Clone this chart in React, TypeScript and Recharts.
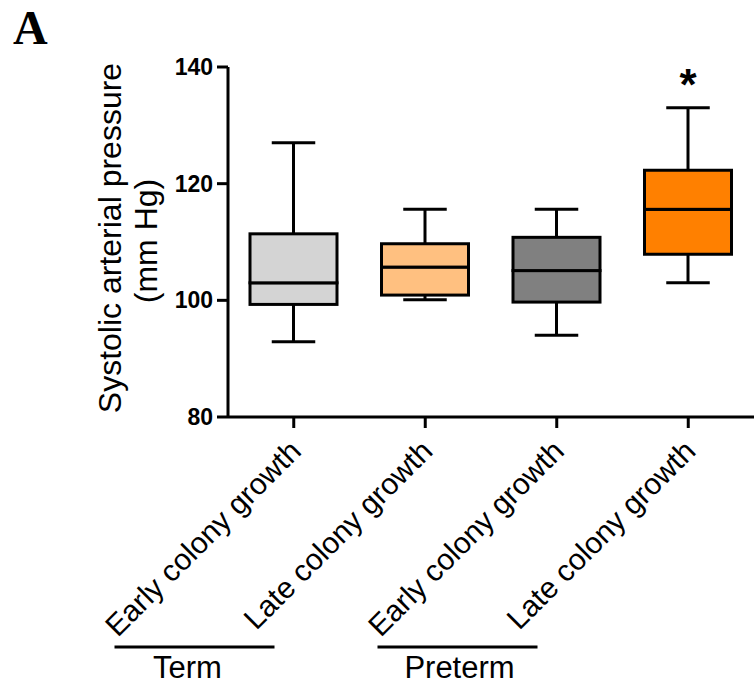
import { Bar, Cell, ComposedChart, LabelList, XAxis, YAxis } from "recharts";

const categories: string[] = ["Early colony growth", "Late colony growth", "Early colony growth", "Late colony growth"];
const groups: string[] = ["Term", "Preterm"];
const groupTextShift: number[] = [-7, 2];
const mins: number[] = [92.9, 100.1, 94.0, 103.0];
const q1s: number[] = [99.3, 100.9, 99.7, 107.9];
const medians: number[] = [103.0, 105.7, 105.1, 115.6];
const q3s: number[] = [111.4, 109.7, 110.8, 122.3];
const maxs: number[] = [127.0, 115.6, 115.6, 133.0];
const marks: string[] = ["", "", "", "*"];
const colors: string[] = ["#d4d4d4", "#ffc080", "#808080", "#ff8000"];
const yTicks: number[] = [80, 100, 120, 140];

const data = categories.map((name, i) => ({
    name: name + "-" + i,
    label: name,
    base: mins[i],
    lowW: q1s[i] - mins[i],
    lowBox: medians[i] - q1s[i],
    highBox: q3s[i] - medians[i],
    highW: maxs[i] - q3s[i],
    mark: marks[i],
}));

const font = "'Liberation Sans', Arial, sans-serif";

const LowWhisker = (props: any) => {
    const { x, y, width, height } = props;
    const cx = x + width / 2;
    return (
        <g stroke="#000" strokeWidth={3}>
            <line x1={cx} y1={y} x2={cx} y2={y + height} />
            <line x1={cx - width / 4} y1={y + height} x2={cx + width / 4} y2={y + height} />
        </g>
    );
};

const HighWhisker = (props: any) => {
    const { x, y, width, height } = props;
    const cx = x + width / 2;
    return (
        <g stroke="#000" strokeWidth={3}>
            <line x1={cx} y1={y} x2={cx} y2={y + height} />
            <line x1={cx - width / 4} y1={y} x2={cx + width / 4} y2={y} />
        </g>
    );
};

const BoxHalf = (props: any) => {
    const { x, y, width, height, fill } = props;
    return <rect x={x} y={y} width={width} height={height} fill={fill} stroke="#000" strokeWidth={3} />;
};

const XTick = (props: any) => {
    const { x, y, payload } = props;
    const text = String(payload.value).split("-")[0];
    return (
        <g transform={`translate(${x + 9},${y + 23})`}>
            <text textAnchor="end" transform="rotate(-45)" fontFamily={font} fontSize={30} fill="#000">
                {text}
            </text>
        </g>
    );
};

const GroupLabels = (props: any) => {
    const { viewBox } = props;
    const band = viewBox.width / categories.length;
    return (
        <g>
            {groups.map((g, i) => {
                const mid = viewBox.x + band * (2 * i + 1) - 165;
                return (
                    <g key={g}>
                        <line x1={mid - 80} y1={647} x2={mid + 80} y2={647} stroke="#000" strokeWidth={3} />
                        <text x={mid + groupTextShift[i]} y={678} textAnchor="middle" fontFamily={font} fontSize={31} fill="#000">
                            {g}
                        </text>
                    </g>
                );
            })}
        </g>
    );
};

const YLabel = () => (
    <g fontFamily={font} fontSize={32} fill="#000" textAnchor="middle">
        <text transform="translate(121,238) rotate(-90)">Systolic arterial pressure</text>
        <text transform="translate(157,241) rotate(-90)">(mm Hg)</text>
    </g>
);

export default function App() {
    return (
        <div style={{ position: "absolute", left: 0, top: 0, width: 756, height: 686, background: "#fff" }}>
            <div style={{ position: "absolute", left: 13, top: 0, fontFamily: "'Liberation Serif', serif", fontWeight: 700, fontSize: 48 }}>
                A
            </div>
            <ComposedChart width={756} height={686} data={data} margin={{ top: 67, right: 2, left: 0, bottom: 0 }} barCategoryGap={0}>
                <XAxis
                    dataKey="name"
                    height={269}
                    stroke="#000"
                    strokeWidth={3}
                    tickSize={11}
                    tickMargin={2}
                    tick={<XTick />}
                    interval={0}
                    label={<GroupLabels />}
                />
                <YAxis
                    width={228}
                    domain={[80, 140]}
                    ticks={yTicks}
                    allowDataOverflow
                    stroke="#000"
                    strokeWidth={3}
                    tickSize={11}
                    tickMargin={4}
                    tick={{ fill: "#000", fontSize: 23, fontWeight: 700, fontFamily: font }}
                    label={<YLabel />}
                />
                <Bar dataKey="base" stackId="b" fill="transparent" barSize={87} isAnimationActive={false} />
                <Bar dataKey="lowW" stackId="b" shape={<LowWhisker />} barSize={87} isAnimationActive={false} />
                <Bar dataKey="lowBox" stackId="b" shape={<BoxHalf />} barSize={87} isAnimationActive={false}>
                    {data.map((d, i) => (
                        <Cell key={d.name} fill={colors[i]} />
                    ))}
                </Bar>
                <Bar dataKey="highBox" stackId="b" shape={<BoxHalf />} barSize={87} isAnimationActive={false}>
                    {data.map((d, i) => (
                        <Cell key={d.name} fill={colors[i]} />
                    ))}
                </Bar>
                <Bar dataKey="highW" stackId="b" shape={<HighWhisker />} barSize={87} isAnimationActive={false}>
                    <LabelList dataKey="mark" position="top" offset={8} fontSize={44} fontWeight={700} fontFamily={font} fill="#000" />
                </Bar>
            </ComposedChart>
        </div>
    );
}
